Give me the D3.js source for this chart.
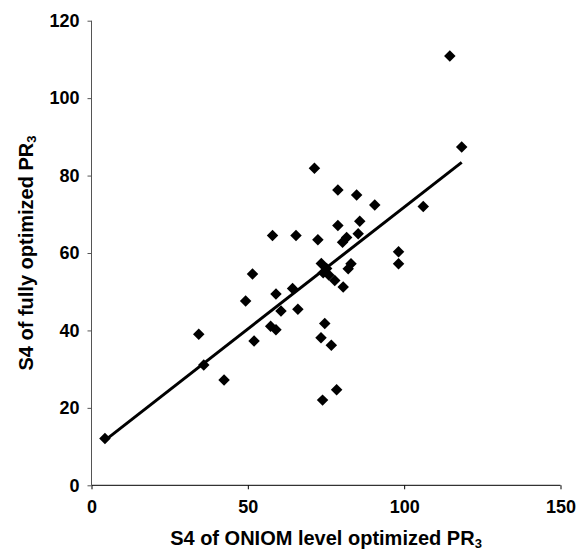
<!DOCTYPE html>
<html>
<head>
<meta charset="utf-8">
<script src="https://cdn.jsdelivr.net/npm/d3@7"></script>
<style>
    body { margin: 0; background: #fff; }
    text { font-family: "Liberation Sans", Arial, sans-serif; font-weight: bold; fill: #000; }
</style>
</head>
<body>
<div id="chart"></div>
<script>
// S4 values
const oniomS4 = [4.3, 34.3, 35.9, 42.4, 49.3, 51.5, 52.0, 57.3, 57.9, 59.0, 59.0, 60.6, 64.3, 65.4, 66.0,
    71.3, 72.4, 73.4, 73.5, 73.9, 74.1, 74.6, 75.2, 75.9, 76.7, 77.8, 78.4, 78.8, 78.8, 80.3, 80.5,
    81.6, 82.1, 83.0, 84.8, 85.3, 85.8, 90.6, 98.2, 98.2, 106.1, 114.6, 118.4];
const fullS4 = [12.1, 39.0, 31.1, 27.2, 47.6, 54.6, 37.3, 41.1, 64.5, 49.4, 40.2, 45.0, 50.8, 64.5, 45.5,
    81.9, 63.4, 38.1, 57.3, 22.0, 54.9, 41.8, 56.0, 54.3, 36.2, 52.9, 24.7, 76.3, 67.1, 62.8, 51.2,
    64.0, 55.9, 57.2, 75.0, 65.0, 68.2, 72.4, 60.3, 57.2, 72.0, 110.9, 87.4];
const xTicks = [0, 50, 100, 150];
const yTicks = [0, 20, 40, 60, 80, 100, 120];

const width = 579, height = 552;
const margin = { top: 20.7, right: 18.5, bottom: 66.7, left: 91.5 };
const plotW = width - margin.left - margin.right;
const plotH = height - margin.top - margin.bottom;

const svg = d3.select("#chart").append("svg")
    .attr("width", width)
    .attr("height", height);

const g = svg.append("g")
    .attr("transform", `translate(${margin.left},${margin.top})`);

const x = d3.scaleLinear().domain([0, 150]).range([0, plotW]);
const y = d3.scaleLinear().domain([0, 120]).range([plotH, 0]);

// axes
const xAxis = g.append("g")
    .attr("transform", `translate(0,${plotH})`)
    .call(d3.axisBottom(x).tickValues(xTicks).tickSize(4).tickPadding(11));
xAxis.select(".domain").attr("stroke", "#000");
xAxis.selectAll("text").style("font-size", "18px");

const yAxis = g.append("g")
    .call(d3.axisLeft(y).tickValues(yTicks).tickSize(4).tickPadding(8));
yAxis.select(".domain").attr("stroke", "#555");
yAxis.selectAll("line").attr("stroke", "#555");
yAxis.selectAll("text").style("font-size", "18px");

// remove the outer tick ends of the domain path
xAxis.select(".domain").attr("d", `M0,0H${plotW}`);
yAxis.select(".domain").attr("d", `M0,0V${plotH}`);

// linear trend (least squares)
const points = oniomS4.map((v, i) => ({ x: v, y: fullS4[i] }));
const mx = d3.mean(points, d => d.x), my = d3.mean(points, d => d.y);
const slope = d3.sum(points, d => (d.x - mx) * (d.y - my)) / d3.sum(points, d => (d.x - mx) ** 2);
const intercept = my - slope * mx;
const [x0, x1] = d3.extent(oniomS4);

g.append("line")
    .attr("x1", x(x0)).attr("y1", y(intercept + slope * x0))
    .attr("x2", x(x1)).attr("y2", y(intercept + slope * x1))
    .attr("stroke", "#000")
    .attr("stroke-width", 3);

// diamond markers
const diamond = d3.symbol(d3.symbolSquare, 66);
g.selectAll("path.pt")
    .data(points)
    .enter().append("path")
    .attr("class", "pt")
    .attr("d", diamond)
    .attr("transform", d => `translate(${x(d.x)},${y(d.y)}) rotate(45)`)
    .attr("fill", "#000");

// axis titles
const xTitle = svg.append("text")
    .attr("x", margin.left + plotW / 2)
    .attr("y", 545)
    .attr("text-anchor", "middle")
    .style("font-size", "20px");
xTitle.append("tspan").text("S4 of ONIOM level optimized PR");
xTitle.append("tspan").attr("dy", 3).style("font-size", "13px").text("3");

const yTitle = svg.append("text")
    .attr("transform", `translate(33,${margin.top + plotH / 2}) rotate(-90)`)
    .attr("text-anchor", "middle")
    .style("font-size", "20px");
yTitle.append("tspan").text("S4 of fully optimized PR");
yTitle.append("tspan").attr("dy", 3).style("font-size", "13px").text("3");
</script>
</body>
</html>
